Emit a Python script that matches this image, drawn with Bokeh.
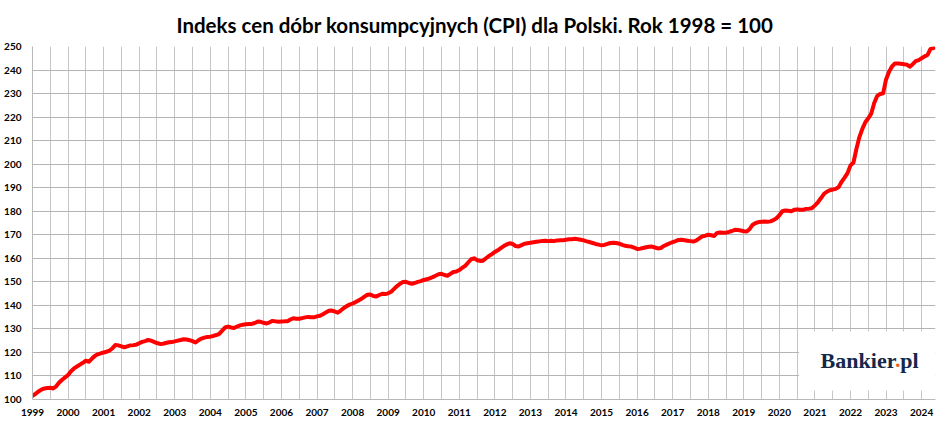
from bokeh.plotting import figure
from bokeh.models import FixedTicker, BoxAnnotation, Label, Range1d
from bokeh.embed import file_html
from bokeh.resources import INLINE

title_text = "Indeks cen dóbr konsumpcyjnych (CPI) dla Polski. Rok 1998 = 100"
year_ticks = list(range(1999, 2025))
y_ticks = list(range(100, 251, 10))

# monthly CPI values (Jan..Dec), Dec 1998 = 100
cpi_1999 = [101.5, 102.4, 103.4, 104.2, 104.7, 104.9, 105.0, 104.7, 105.6, 107.2, 108.4, 109.4]
cpi_2000 = [110.4, 112.0, 113.2, 114.0, 114.8, 115.6, 116.5, 116.0, 117.3, 118.5, 119.2, 119.6]
cpi_2001 = [120.0, 120.3, 120.8, 121.8, 123.2, 123.0, 122.6, 122.2, 122.6, 123.0, 123.1, 123.3]
cpi_2002 = [123.9, 124.5, 124.8, 125.3, 125.0, 124.5, 124.0, 123.6, 123.7, 124.0, 124.3, 124.4]
cpi_2003 = [124.7, 125.0, 125.3, 125.6, 125.5, 125.2, 124.8, 124.2, 125.2, 125.9, 126.3, 126.6]
cpi_2004 = [126.7, 127.0, 127.4, 127.9, 129.3, 130.6, 131.0, 130.6, 130.4, 131.0, 131.5, 131.8]
cpi_2005 = [132.0, 132.1, 132.1, 132.5, 133.1, 133.0, 132.6, 132.3, 132.8, 133.4, 133.2, 133.0]
cpi_2006 = [133.1, 133.2, 133.2, 134.0, 134.5, 134.3, 134.3, 134.6, 134.9, 135.1, 135.0, 134.9]
cpi_2007 = [135.3, 135.6, 136.2, 137.0, 137.7, 137.8, 137.4, 136.9, 137.8, 138.8, 139.7, 140.3]
cpi_2008 = [140.8, 141.4, 142.1, 142.8, 143.7, 144.5, 144.6, 144.0, 143.8, 144.4, 144.9, 144.8]
cpi_2009 = [145.1, 145.8, 147.0, 148.2, 149.2, 149.9, 150.0, 149.5, 149.2, 149.5, 150.0, 150.3]
cpi_2010 = [150.8, 151.1, 151.5, 152.0, 152.6, 153.2, 153.4, 152.9, 152.6, 153.4, 154.2, 154.4]
cpi_2011 = [155.0, 156.0, 156.8, 158.2, 159.6, 160.0, 159.2, 158.9, 159.0, 160.0, 161.0, 161.8]
cpi_2012 = [162.7, 163.4, 164.3, 165.2, 165.9, 166.4, 166.1, 165.2, 165.0, 165.6, 166.2, 166.4]
cpi_2013 = [166.6, 166.8, 167.0, 167.2, 167.4, 167.5, 167.3, 167.5, 167.3, 167.6, 167.7, 167.7]
cpi_2014 = [167.9, 168.1, 168.1, 168.3, 168.1, 167.9, 167.6, 167.2, 166.9, 166.5, 166.1, 165.8]
cpi_2015 = [165.5, 165.7, 166.1, 166.5, 166.6, 166.5, 166.2, 165.7, 165.3, 165.1, 165.0, 164.5]
cpi_2016 = [164.0, 164.1, 164.4, 164.7, 164.9, 165.0, 164.6, 164.2, 164.4, 165.2, 165.8, 166.4]
cpi_2017 = [166.9, 167.3, 167.8, 167.9, 167.7, 167.5, 167.3, 167.1, 167.6, 168.5, 169.3, 169.6]
cpi_2018 = [170.0, 169.8, 169.5, 170.8, 171.0, 170.9, 170.9, 171.2, 171.6, 172.1, 172.0, 171.8]
cpi_2019 = [171.5, 171.4, 172.5, 174.3, 175.0, 175.4, 175.5, 175.6, 175.5, 175.7, 176.2, 177.0]
cpi_2020 = [178.3, 180.0, 180.3, 180.2, 180.0, 180.6, 180.8, 180.6, 180.6, 181.0, 181.1, 181.3]
cpi_2021 = [182.5, 183.8, 185.5, 187.3, 188.3, 188.9, 189.2, 189.5, 190.3, 192.5, 194.3, 196.2]
cpi_2022 = [199.5, 200.7, 206.5, 211.5, 215.0, 217.8, 219.5, 221.5, 226.0, 229.0, 229.8, 230.1]
cpi_2023 = [236.0, 239.3, 241.5, 242.8, 242.8, 242.7, 242.5, 242.3, 241.4, 242.5, 243.8, 244.2]
cpi_2024 = [245.0, 245.8, 246.4, 249.0, 249.3]

series = [
    (1999, cpi_1999), (2000, cpi_2000), (2001, cpi_2001), (2002, cpi_2002),
    (2003, cpi_2003), (2004, cpi_2004), (2005, cpi_2005), (2006, cpi_2006),
    (2007, cpi_2007), (2008, cpi_2008), (2009, cpi_2009), (2010, cpi_2010),
    (2011, cpi_2011), (2012, cpi_2012), (2013, cpi_2013), (2014, cpi_2014),
    (2015, cpi_2015), (2016, cpi_2016), (2017, cpi_2017), (2018, cpi_2018),
    (2019, cpi_2019), (2020, cpi_2020), (2021, cpi_2021), (2022, cpi_2022),
    (2023, cpi_2023), (2024, cpi_2024),
]
xs, ys = [], []
for yr, vals in series:
    for m, v in enumerate(vals):
        xs.append(yr + m / 12)
        ys.append(v)

p = figure(width=948, height=428,
           x_range=Range1d(1999, 2024.39), y_range=Range1d(100, 250),
           output_backend="svg", toolbar_location=None,
           min_border_left=32, min_border_right=13,
           min_border_top=44, min_border_bottom=29)

p.title.text = title_text
p.title.align = "left"
p.title.offset = 144
p.title.text_font = "Lato"
p.title.text_font_size = "20.5px"
p.title.text_font_style = "bold"
p.title.text_color = "#000000"
p.title.standoff = 20

p.background_fill_color = "white"
p.border_fill_color = "white"
p.outline_line_color = None

p.xaxis.ticker = FixedTicker(ticks=year_ticks, minor_ticks=[y + 0.5 for y in year_ticks])
p.xaxis.major_label_overrides = {y: str(y) for y in year_ticks}
p.yaxis.ticker = FixedTicker(ticks=y_ticks)
for ax in (p.xaxis, p.yaxis):
    ax.major_tick_line_color = None
    ax.minor_tick_line_color = None
    ax.axis_line_color = "#b8b8b8"
    ax.major_label_text_font = "Lato"
    ax.major_label_text_font_size = "10px"
    ax.major_label_text_font_style = "bold"
    ax.major_label_text_color = "#000000"
p.xaxis.major_label_standoff = 3
p.yaxis.major_label_standoff = 5

p.xgrid.grid_line_color = "#c6c6c6"
p.xgrid.minor_grid_line_color = "#c6c6c6"
p.ygrid.grid_line_color = "#b4b4b4"

p.line(xs, ys, line_color="#ff0000", line_width=4, line_join="round", line_cap="round")

logo_box = BoxAnnotation(left=2020.55, bottom=103.8, top=128.9,
                         fill_color="white", fill_alpha=1.0, line_color=None)
p.add_layout(logo_box)

navy = "#14284a"
for txt, xpos, col in (("Bankier", 2021.16, navy), (".", 2023.25, "#e8641e"), ("pl", 2023.40, navy)):
    p.add_layout(Label(x=xpos, y=116.6, text=txt, text_font="Liberation Serif",
                       text_font_style="bold", text_font_size="22px",
                       text_color=col, text_baseline="alphabetic"))

open("out.html", "w").write(file_html(p, INLINE))
